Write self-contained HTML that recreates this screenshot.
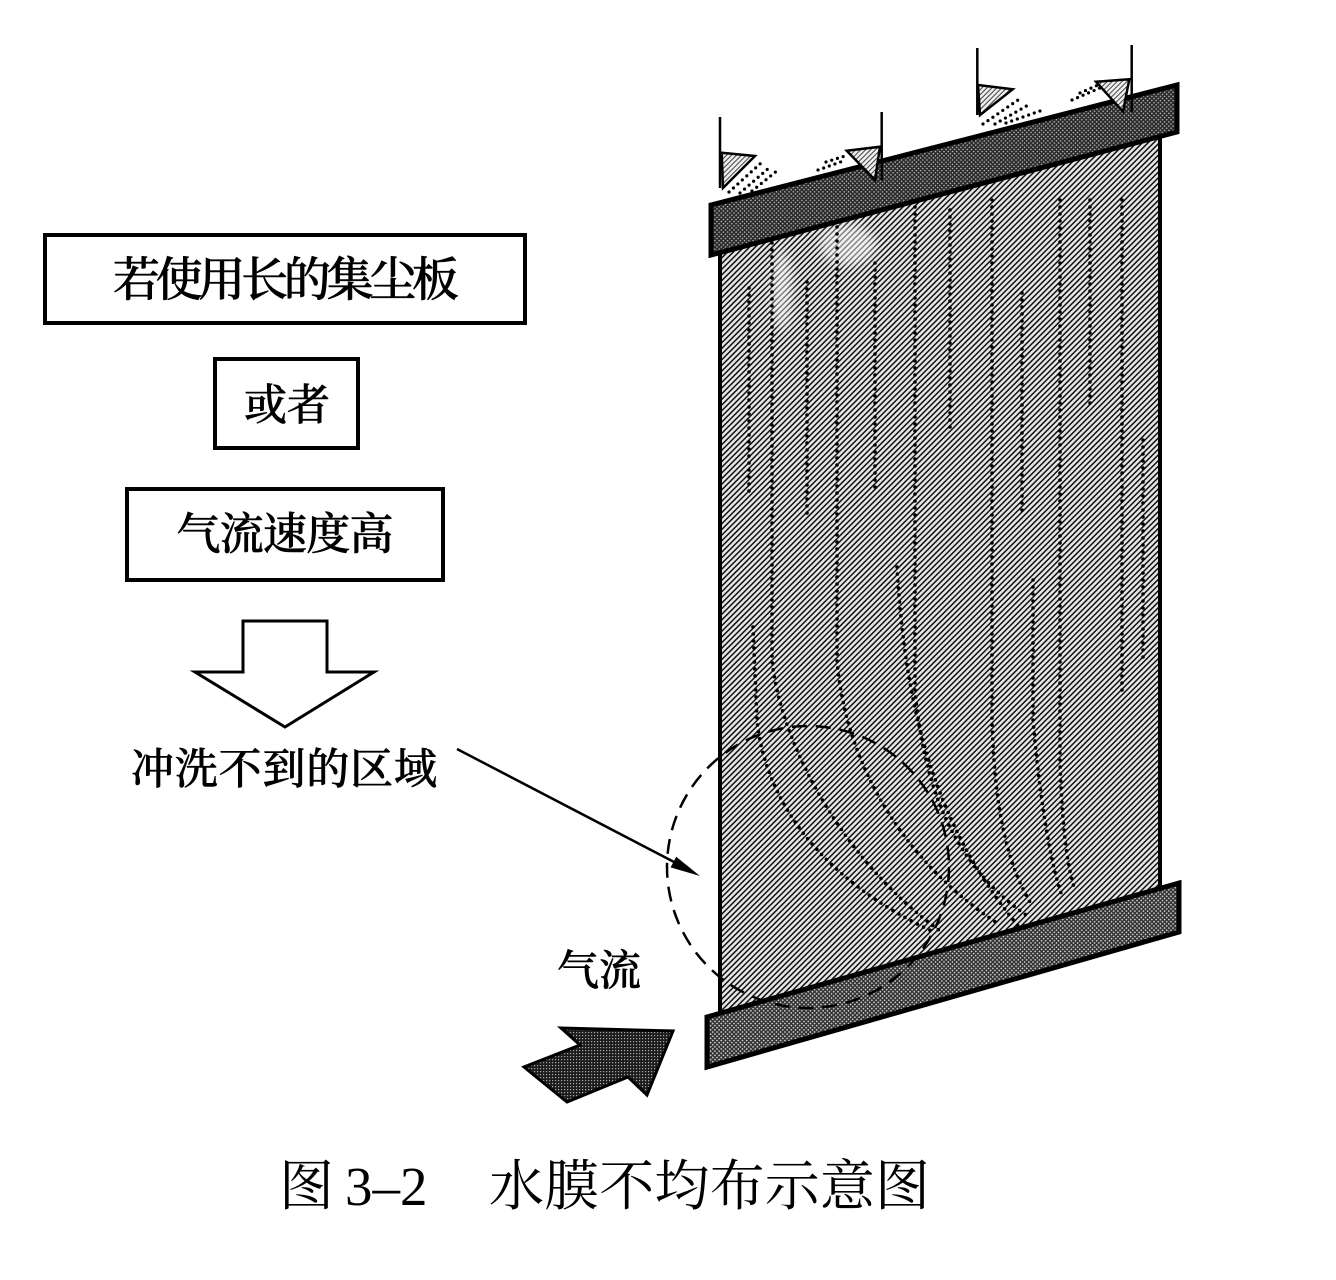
<!DOCTYPE html>
<html><head><meta charset="utf-8"><style>
html,body{margin:0;padding:0;background:#fff;}
svg{display:block;}
.cj{font-family:"Liberation Serif","Noto Serif CJK SC",serif;}
</style></head><body>
<svg width="1336" height="1280" viewBox="0 0 1336 1280" xmlns="http://www.w3.org/2000/svg">
<defs>
<pattern id="hatch" width="4" height="4" patternUnits="userSpaceOnUse" patternTransform="rotate(45)">
<rect width="4" height="4" fill="#e6e6e6"/><rect width="1.5" height="4" fill="#111"/></pattern>
<pattern id="bar" width="3" height="3" patternUnits="userSpaceOnUse" patternTransform="rotate(45)">
<rect width="3" height="3" fill="#2a2a2a"/><rect width="1.3" height="1.3" fill="#c8c8c8"/></pattern>
<pattern id="bar2" width="3" height="3" patternUnits="userSpaceOnUse" patternTransform="rotate(45)">
<rect width="3" height="3" fill="#333"/><rect width="1.5" height="1.5" fill="#d0d0d0"/></pattern>
<pattern id="lhatch" width="3.5" height="3.5" patternUnits="userSpaceOnUse" patternTransform="rotate(45)">
<rect width="3.5" height="3.5" fill="#eee"/><rect width="1" height="3.5" fill="#444"/></pattern>
<pattern id="dark" width="3" height="3" patternUnits="userSpaceOnUse">
<rect width="3" height="3" fill="#1c1c1c"/><rect width="1.2" height="1.2" fill="#aaa"/></pattern>
<filter id="blur" x="-50%" y="-50%" width="200%" height="200%"><feGaussianBlur stdDeviation="5"/></filter>
</defs>

<!-- Left boxes -->
<rect x="45" y="235" width="480" height="88" fill="#fff" stroke="#000" stroke-width="4"/>
<text class="cj" x="286" y="296" font-size="47" font-weight="500" text-anchor="middle" textLength="346" lengthAdjust="spacing" stroke="#000" stroke-width="0.6">若使用长的集尘板</text>

<rect x="215" y="359" width="143" height="89" fill="#fff" stroke="#000" stroke-width="4"/>
<text class="cj" x="287" y="420" font-size="43" font-weight="500" text-anchor="middle" stroke="#000" stroke-width="0.6">或者</text>

<rect x="127" y="489" width="316" height="91" fill="#fff" stroke="#000" stroke-width="4"/>
<text class="cj" x="285" y="549" font-size="44" font-weight="500" text-anchor="middle" textLength="217" lengthAdjust="spacing" stroke="#000" stroke-width="0.6">气流速度高</text>

<!-- hollow down arrow -->
<polygon points="243,621 327,621 327,672 374,672 285,727 195,672 243,672" fill="#fff" stroke="#000" stroke-width="3" stroke-linejoin="miter"/>

<text class="cj" x="284" y="784" font-size="43" font-weight="500" text-anchor="middle" textLength="306" lengthAdjust="spacing" stroke="#000" stroke-width="0.6">冲洗不到的区域</text>

<!-- panel body -->
<polygon points="720,240 1160,125 1160,895 720,1025" fill="url(#hatch)"/>
<ellipse cx="782" cy="290" rx="10" ry="40" fill="#fff" opacity="0.5" filter="url(#blur)"/>
<ellipse cx="848" cy="245" rx="28" ry="20" fill="#fff" opacity="0.5" filter="url(#blur)"/>

<!-- dotted flow lines -->
<g fill="none" stroke="#000" stroke-width="3.6" stroke-dasharray="0 7" stroke-linecap="round">
<path d="M749,288 L749,497"/>
<path d="M807,282 L807,517"/>
<path d="M875,263 L875,490"/>
<path d="M950,210 L950,433"/>
<path d="M1022,293 L1022,517"/>
<path d="M1090,200 L1090,407"/>
<path d="M1122,200 L1122,697"/>
<path d="M1143,440 L1143,660"/>
<path d="M753,627 L757,720 C765,800 820,880 936,933"/>
<path d="M772,243 L772,660 C780,740 840,860 943,933"/>
<path d="M837,227 L837,660 C845,760 900,860 1000,925"/>
<path d="M897,567 C905,700 930,820 1019,927"/>
<path d="M915,200 L915,690 C925,800 960,870 1029,917"/>
<path d="M992,200 L992,720 C995,820 1010,870 1033,907"/>
<path d="M1033,580 L1033,720 C1040,800 1050,860 1061,893"/>
<path d="M1060,200 L1060,760 C1062,830 1068,870 1075,890"/>
</g>

<!-- body side borders -->
<line x1="720" y1="250" x2="720" y2="1020" stroke="#000" stroke-width="4"/>
<line x1="1160" y1="128" x2="1160" y2="890" stroke="#000" stroke-width="4"/>

<!-- bars -->
<polygon points="711,205 1177,85 1177,132 711,255" fill="url(#bar)" stroke="#000" stroke-width="5" stroke-linejoin="miter"/>
<polygon points="707,1017 1179,883 1179,932 707,1067" fill="url(#bar2)" stroke="#000" stroke-width="5" stroke-linejoin="miter"/>

<!-- dashed circle -->
<circle cx="808" cy="867" r="141" fill="none" stroke="#000" stroke-width="2.5" stroke-dasharray="15 9"/>

<!-- callout arrow -->
<line x1="457" y1="749" x2="676" y2="863" stroke="#000" stroke-width="2.5"/>
<polygon points="700,876 670.6,867.4 676.2,856.8" fill="#000"/>

<!-- top water arrows -->
<g stroke="#000" stroke-width="2.5" fill="none">
<line x1="720" y1="117" x2="720" y2="188"/>
<line x1="881.7" y1="112" x2="881.7" y2="180"/>
<line x1="977.3" y1="48" x2="977.3" y2="115"/>
<line x1="1131.7" y1="45" x2="1131.7" y2="112"/>
</g>
<g fill="none" stroke="#000" stroke-width="3.2" stroke-dasharray="0 6" stroke-linecap="round">
<path d="M729,192 L761,163"/>
<path d="M740,193 L770,167"/>
<path d="M752,191 L778,170"/>
<path d="M818,170 L846,160"/>
<path d="M826,162 L845,156"/>
<path d="M983,124 L1018,100"/>
<path d="M995,124 L1030,104"/>
<path d="M1006,123 L1040,111"/>
<path d="M1072,100 L1100,88"/>
<path d="M1080,93 L1098,85"/>
</g>
<g fill="url(#lhatch)" stroke="#000" stroke-width="2.5" stroke-linejoin="miter">
<polygon points="721.7,152.7 755,156 723,188"/>
<polygon points="846.7,150.7 880,146.7 875,180"/>
<polygon points="978,85 1012.7,89.3 980,115"/>
<polygon points="1096,81.7 1129.3,79.3 1123,111.7"/>
</g>

<!-- airflow label and arrow -->
<text class="cj" x="599" y="985" font-size="42" font-weight="500" text-anchor="middle" stroke="#000" stroke-width="0.6">气流</text>
<polygon points="561,1028 673,1031 647,1095 628,1077 567,1102 524,1067 580,1045" fill="url(#dark)" stroke="#000" stroke-width="3" stroke-linejoin="miter"/>

<!-- caption -->
<text class="cj" x="279" y="1205" font-size="55">图</text>
<text x="345" y="1205" font-size="55" style="font-family:'Liberation Serif',serif;">3–2</text>
<text class="cj" x="489" y="1205" font-size="55" textLength="441" lengthAdjust="spacing">水膜不均布示意图</text>
</svg>
</body></html>
